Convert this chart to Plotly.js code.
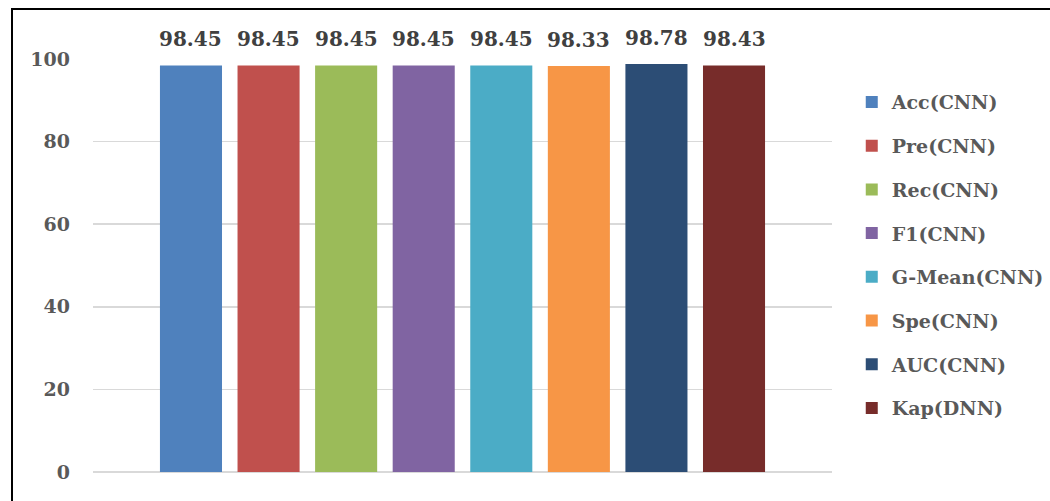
<!DOCTYPE html>
<html>
<head>
<meta charset="utf-8">
<script src="https://cdn.plot.ly/plotly-3.0.1.min.js"></script>
<style>
  html, body { margin: 0; padding: 0; background: #fff; overflow: hidden; }
  #chart { width: 1050px; height: 501px; }
  #frame { position: absolute; left: 11px; top: 8px; width: 1200px; height: 700px;
           border-left: 2px solid #000; border-top: 2px solid #000; pointer-events: none; }
</style>
</head>
<body>
<div id="chart"></div>
<div id="frame"></div>
<script>
const categories = ["Acc(CNN)", "Pre(CNN)", "Rec(CNN)", "F1(CNN)", "G-Mean(CNN)", "Spe(CNN)", "AUC(CNN)", "Kap(DNN)"];
const values = [98.45, 98.45, 98.45, 98.45, 98.45, 98.33, 98.78, 98.43];
const colors = ["#4F81BD", "#C0504D", "#9BBB59", "#8064A2", "#4BACC6", "#F79646", "#2C4D75", "#772C2A"];
const yTicks = [0, 20, 40, 60, 80, 100];

const fontFamily = "DejaVu Serif, serif";

const traces = categories.map((c, i) => ({
  type: "bar",
  name: c,
  x: [c],
  y: [values[i]],
  marker: { color: colors[i] },
  legendgroup: "g" + i,
  hoverinfo: "skip"
}));

const annotations = categories.map((c, i) => ({
  x: c,
  y: values[i],
  xref: "x",
  yref: "y",
  text: values[i].toFixed(2),
  showarrow: false,
  yanchor: "bottom",
  yshift: 12,
  font: { family: fontFamily, size: 20, color: "#404040", weight: "bold" }
}));

const layout = {
  width: 1050,
  height: 501,
  margin: { l: 93, r: 218, t: 59, b: 29 },
  paper_bgcolor: "#ffffff",
  plot_bgcolor: "#ffffff",
  barmode: "overlay",
  bargap: 0.2,
  showlegend: true,
  legend: {
    xref: "container",
    yref: "container",
    x: 0.8112,
    y: 0.834,
    xanchor: "left",
    yanchor: "top",
    maxheight: 480,
    traceorder: "grouped",
    tracegroupgap: 16,
    font: { family: fontFamily, size: 19, color: "#595959", weight: "bold" },
    bgcolor: "rgba(0,0,0,0)"
  },
  xaxis: {
    type: "category",
    categoryorder: "array",
    categoryarray: categories,
    range: [-1.263, 8.263],
    showticklabels: false,
    showgrid: false,
    zeroline: false,
    showline: false,
    ticks: ""
  },
  yaxis: {
    range: [0, 100],
    tickvals: yTicks,
    ticktext: yTicks.map(String),
    showgrid: true,
    gridcolor: "#D9D9D9",
    gridwidth: 1.5,
    zeroline: true,
    zerolinecolor: "#D9D9D9",
    zerolinewidth: 1.5,
    showline: false,
    ticks: "",
    ticklabelstandoff: 22,
    tickfont: { family: fontFamily, size: 19, color: "#595959", weight: "bold" }
  },
  annotations: annotations
};

Plotly.newPlot("chart", traces, layout, { staticPlot: true, displayModeBar: false });
</script>
</body>
</html>
